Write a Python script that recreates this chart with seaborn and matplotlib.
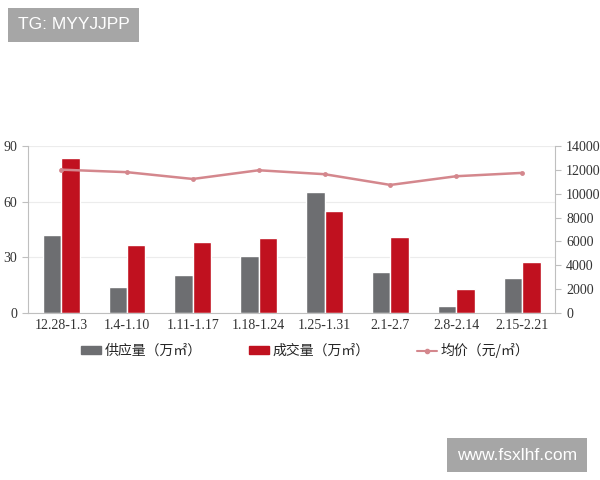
import numpy as np
import pandas as pd
import matplotlib
matplotlib.use('Agg')
import matplotlib.pyplot as plt
import seaborn as sns
from matplotlib.lines import Line2D
from matplotlib.patches import Patch

# data
weeks = ['12.28-1.3', '1.4-1.10', '1.11-1.17', '1.18-1.24',
         '1.25-1.31', '2.1-2.7', '2.8-2.14', '2.15-2.21']
supply = [42, 14, 20.7, 30.7, 65.4, 22.3, 3.9, 18.9]
deals = [83.7, 36.5, 38.3, 40.4, 54.8, 41.1, 12.8, 27.5]
price = [12010, 11800, 11230, 11960, 11630, 10730, 11460, 11740]
series_names = ['供应量（万㎡）', '成交量（万㎡）', '均价（元/㎡）']

gray = '#6d6e71'
red = '#c0111f'
pink = '#d4878d'

sns.set_style('white')
plt.rcParams['font.family'] = ['Liberation Serif']
tick_font = 'Liberation Serif'

df = pd.DataFrame({
    'week': weeks * 2,
    'value': supply + deals,
    'kind': [series_names[0]] * len(weeks) + [series_names[1]] * len(weeks),
})

fig = plt.figure(figsize=(6, 4.8), dpi=100)
ax = fig.add_axes([0.047, 0.348, 0.878, 0.348])

sns.barplot(data=df, x='week', y='value', hue='kind', order=weeks,
            palette=[gray, red], width=0.56, gap=0, saturation=1,
            legend=False, ax=ax)
ax.set_xlim(-0.5, len(weeks) - 0.5)
ax.set_ylim(0, 90)
ax.set_yticks([0, 30, 60, 90])
ax.set_xlabel('')
ax.set_ylabel('')
ax.grid(axis='y', color='#ececec', linewidth=0.8)
ax.set_axisbelow(True)
for s in ['top', 'right']:
    ax.spines[s].set_visible(False)
for s in ['left', 'bottom']:
    ax.spines[s].set_color('#bfbfbf')
    ax.spines[s].set_linewidth(0.8)
ax.tick_params(axis='y', length=4, color='#bfbfbf', labelsize=10, pad=4, labelcolor='#333333')
ax.tick_params(axis='x', length=0, labelsize=10, pad=4, labelcolor='#333333')
# ticks between categories
ax.set_xticks(np.arange(len(weeks) + 1) - 0.5, minor=True)
ax.tick_params(axis='x', which='minor', length=5, color='#bfbfbf')

ax2 = ax.twinx()
sns.lineplot(x=np.arange(len(weeks)), y=price, color=pink, linewidth=1.8,
             marker='o', markersize=3.5, markeredgewidth=0, ax=ax2)
ax2.set_ylim(0, 14000)
ax2.set_yticks(range(0, 14001, 2000))
for s in ['top', 'left', 'bottom']:
    ax2.spines[s].set_visible(False)
ax2.spines['right'].set_color('#bfbfbf')
ax2.spines['right'].set_linewidth(0.8)
ax2.tick_params(axis='y', length=4, color='#bfbfbf', labelsize=10, pad=4, labelcolor='#333333')

for lab in ax.get_xticklabels() + ax.get_yticklabels() + ax2.get_yticklabels():
    lab.set_fontfamily(tick_font)

handles = [Patch(color=gray), Patch(color=red),
           Line2D([0], [0], color=pink, linewidth=1.5, marker='o', markersize=3)]
fig.legend(handles, series_names, loc='center', bbox_to_anchor=(0.508, 0.27),
           ncol=3, frameon=False, columnspacing=3.4, handlelength=1.5,
           handleheight=0.45, handletextpad=0.2,
           prop={'family': ['Noto Sans CJK SC', 'DejaVu Sans'], 'size': 10})

box = dict(facecolor='#a6a6a6', edgecolor='none', pad=7)
fig.text(0.03, 0.948, 'TG: MYYJJPP', color='white', fontsize=12.5,
         family='Liberation Sans', va='center', bbox=box)
fig.text(0.762, 0.052, 'www.fsxlhf.com', color='white', fontsize=12.5,
         family='Liberation Sans', va='center', bbox=box)

fig.savefig('out.png', dpi=100)
